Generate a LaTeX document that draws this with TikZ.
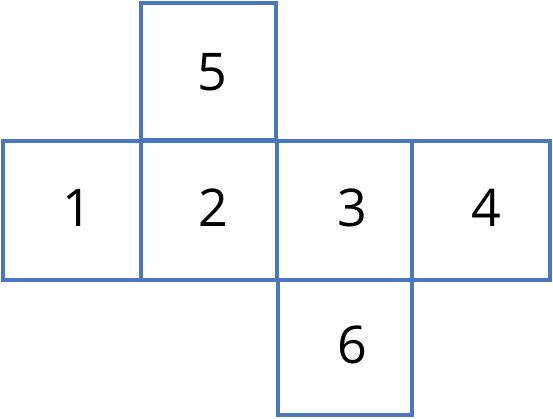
\documentclass[tikz,border=0pt]{standalone}
\usepackage{fontspec}
\setmainfont{Open Sans}
\definecolor{netblue}{HTML}{4A78BE}
\begin{document}
\begin{tikzpicture}[x=1pt,y=-1pt,
  face/.style={draw=netblue,line width=3.2pt},
  num/.style={font=\fontsize{52}{60}\selectfont,text=black,inner sep=0pt}]
\useasboundingbox (0,0) rectangle (553,418);
\draw[face] (141,3) rectangle (276,140);
\draw[face] (3,141) rectangle (141,280);
\draw[face] (141,141) rectangle (277,280);
\draw[face] (277,141) rectangle (412,280);
\draw[face] (412,141) rectangle (550,280);
\draw[face] (278,280) rectangle (412,415);
\node[num] (n5) at (212,72) {5};
\node[num] (n1) at (77,208) {1};
\node[num] (n2) at (213,208) {2};
\node[num] (n3) at (352,208) {3};
\node[num] (n4) at (486,208) {4};
\node[num] (n6) at (352,345) {6};
\end{tikzpicture}
\end{document}
